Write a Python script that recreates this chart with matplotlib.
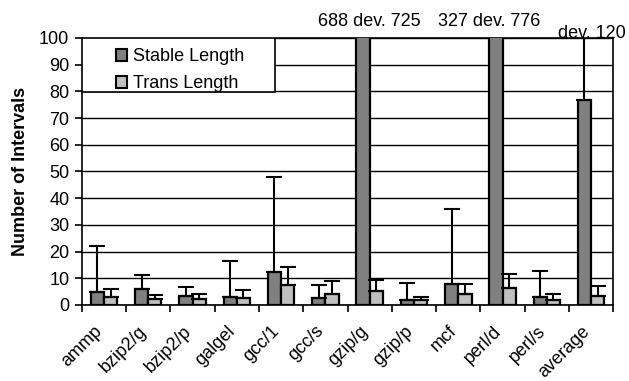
import numpy as np
import matplotlib.pyplot as plt
from matplotlib.patches import Rectangle

plt.rcParams['font.family'] = ['Liberation Sans', 'DejaVu Sans']

categories = ["ammp", "bzip2/g", "bzip2/p", "galgel", "gcc/1", "gcc/s",
              "gzip/g", "gzip/p", "mcf", "perl/d", "perl/s", "average"]
stable = [5.0, 5.9, 3.2, 3.0, 12.2, 2.7, 688, 1.8, 8.0, 327, 3.1, 76.9]
stable_dev = [17.2, 5.5, 3.7, 13.5, 35.8, 4.8, 725, 6.4, 28.1, 776, 9.8, 120]
trans = [2.9, 2.1, 2.2, 2.5, 7.6, 4.2, 5.4, 1.8, 4.2, 6.4, 1.9, 3.5]
trans_dev = [3.1, 1.8, 2.0, 3.1, 6.6, 4.8, 4.1, 1.3, 3.7, 5.2, 2.1, 3.5]

# 範囲外の値の注記 (カテゴリ, テキスト)
notes = [("gzip/g", "688 dev. 725"), ("perl/d", "327 dev. 776"), ("average", "dev. 120")]

fig = plt.figure(figsize=(6.29, 3.81), dpi=100)
ax = fig.add_axes([0.130, 0.1995, 0.845, 0.7008])

x = np.arange(len(categories))
w = 0.30
ekw = dict(ecolor="black", elinewidth=1.5, capsize=6, capthick=1.5)
ax.bar(x - w / 2, stable, w, color="#808080", edgecolor="black", linewidth=1.6,
       yerr=[np.zeros(len(x)), stable_dev], error_kw=ekw, zorder=3, label="Stable Length")
ax.bar(x + w / 2, trans, w, color="#c0c0c0", edgecolor="black", linewidth=1.6,
       yerr=[np.zeros(len(x)), trans_dev], error_kw=ekw, zorder=3, label="Trans Length")

ax.set_xlim(-0.5, len(categories) - 0.5)
ax.set_ylim(0, 100)
ax.set_yticks(np.arange(0, 101, 10))
ax.yaxis.grid(True, color="black", linewidth=1)
ax.set_axisbelow(True)

# ラベルは少し左にずらす (目盛り線は描かない)
ax.set_xticks(x - 0.09)
ax.set_xticklabels(categories, rotation=45, ha="right", va="center",
                   rotation_mode="anchor", fontsize=13)
ax.set_xticks(np.arange(-0.5, len(categories), 1), minor=True)
ax.tick_params(axis="x", which="major", length=0, pad=17)
ax.tick_params(axis="x", which="minor", length=5, width=1.2, direction="out")
ax.tick_params(axis="y", labelsize=13, length=5, width=1.2, direction="out", pad=4)
for s in ax.spines.values():
    s.set_linewidth(1.2)

ax.set_ylabel("Number of Intervals", fontsize=13, fontweight="bold", labelpad=7)

offs = {"gzip/g": 0.15, "perl/d": -0.15, "average": 0.16}
for cat, txt in notes:
    i = categories.index(cat)
    ax.text(i - w / 2 + offs[cat], 103 if cat != "average" else 98.5, txt,
            ha="center", va="bottom", fontsize=13, clip_on=False)

# 凡例の枠
ax.add_patch(Rectangle((0, 0.798), 0.363, 0.202, transform=ax.transAxes,
                       facecolor="white", edgecolor="black", linewidth=1.2, zorder=4))
leg = ax.legend(loc="upper left", bbox_to_anchor=(0.04, 1.01), frameon=False, fontsize=13,
                handlelength=0.65, handleheight=0.65, handletextpad=0.3, borderpad=0.2,
                labelspacing=0.55)
leg.set_zorder(5)
for h in leg.legend_handles:
    h.set_linewidth(1.5)

fig.savefig("out.png", dpi=100)
